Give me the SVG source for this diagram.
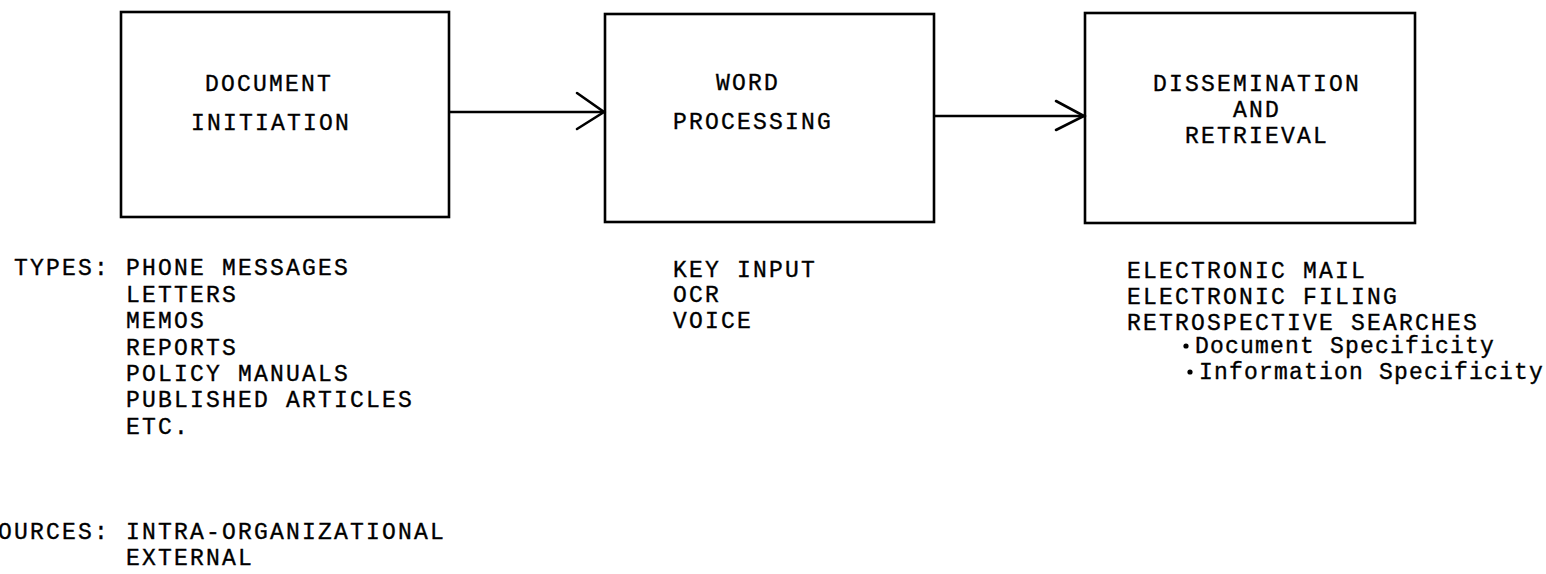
<svg xmlns="http://www.w3.org/2000/svg" width="1546" height="574" viewBox="0 0 1546 574">
  <style>
    .box { fill: #fff; stroke: #000; stroke-width: 2.6; }
    .wire { fill: none; stroke: #000; stroke-width: 2.6; }
    .head { fill: none; stroke: #000; stroke-width: 2.6; stroke-linecap: round; stroke-linejoin: miter; }
    text { font-family: "Liberation Mono", "DejaVu Sans Mono", monospace; font-size: 23px; letter-spacing: 2.2px; fill: #000; stroke: #000; stroke-width: 0.35; }
    .lc { letter-spacing: 1.2px; }
  </style>
  <rect width="1546" height="574" fill="#fff"/>

  <!-- process stages -->
  <g id="document-initiation">
    <rect class="box" x="121" y="12" width="328" height="205"/>
    <text x="205" y="91">DOCUMENT</text>
    <text x="191" y="130">INITIATION</text>
  </g>

  <g id="word-processing">
    <rect class="box" x="605" y="14" width="329" height="208"/>
    <text x="716" y="90">WORD</text>
    <text x="673" y="129">PROCESSING</text>
  </g>

  <g id="dissemination-retrieval">
    <rect class="box" x="1085" y="13" width="330" height="210"/>
    <text x="1153" y="91">DISSEMINATION</text>
    <text x="1233" y="117">AND</text>
    <text x="1185" y="143">RETRIEVAL</text>
  </g>

  <!-- flow between stages -->
  <g id="connectors">
    <line class="wire" x1="449" y1="112" x2="604" y2="112"/>
    <polyline class="head" points="577,93 604,112 577,129"/>
    <line class="wire" x1="934" y1="116" x2="1084" y2="116"/>
    <polyline class="head" points="1056,101 1084,116 1056,130"/>
  </g>

  <!-- notes under each stage -->
  <g id="initiation-notes">
    <text x="14" y="275">TYPES:</text>
    <text x="126" y="275">PHONE MESSAGES</text>
    <text x="126" y="301.5">LETTERS</text>
    <text x="126" y="328">MEMOS</text>
    <text x="126" y="354.5">REPORTS</text>
    <text x="126" y="381">POLICY MANUALS</text>
    <text x="126" y="407">PUBLISHED ARTICLES</text>
    <text x="126" y="433.5">ETC.</text>
    <text x="-18" y="539">SOURCES:</text>
    <text x="126" y="539">INTRA-ORGANIZATIONAL</text>
    <text x="126" y="565">EXTERNAL</text>
  </g>

  <g id="processing-notes">
    <text x="673" y="277">KEY INPUT</text>
    <text x="673" y="302">OCR</text>
    <text x="673" y="328">VOICE</text>
  </g>

  <g id="retrieval-notes">
    <text x="1127" y="278">ELECTRONIC MAIL</text>
    <text x="1127" y="304">ELECTRONIC FILING</text>
    <text x="1127" y="330">RETROSPECTIVE SEARCHES</text>
    <circle cx="1186" cy="346" r="2.6" fill="#000"/>
    <text class="lc" x="1195" y="353">Document Specificity</text>
    <circle cx="1190" cy="372" r="2.6" fill="#000"/>
    <text class="lc" x="1199" y="379">Information Specificity</text>
  </g>
</svg>
